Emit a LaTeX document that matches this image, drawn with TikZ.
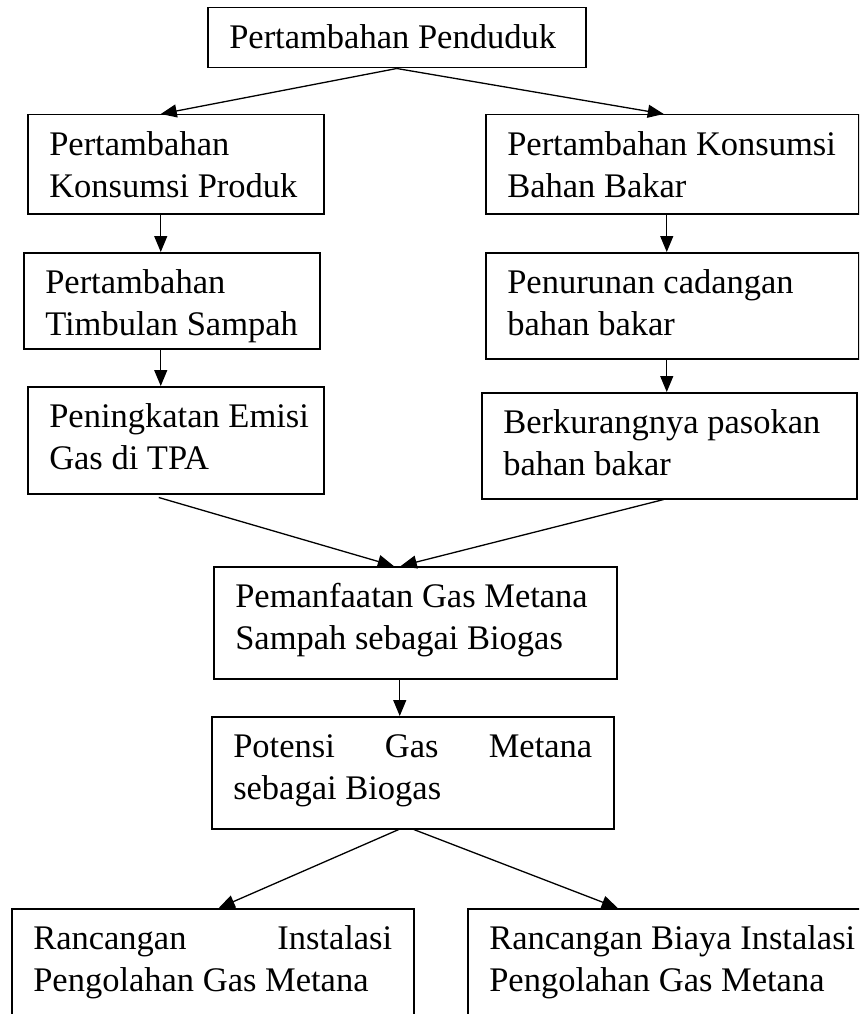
\documentclass[tikz,border=0pt]{standalone}
\usepackage{fontspec}
\setmainfont{Liberation Serif}
\usepackage{tikz}
\usetikzlibrary{arrows.meta}
\newcommand{\boxtxt}[3]{\parbox[c][#2pt][t]{\dimexpr#1pt-43pt\relax}{\fontsize{34.5}{41.5}\selectfont
  \spaceskip=\fontdimen2\font plus \fontdimen3\font\relax
  \hyphenpenalty=10000 \hbadness=10000 \hfuzz=20pt
  \raggedright\rule{0pt}{41pt}#3}}
\newcommand{\spread}[1]{\makebox[\linewidth][s]{#1}}

\begin{document}
\begin{tikzpicture}[x=1pt, y=-1pt]
\tikzset{flowbox/.style={draw, line width=1.5pt, inner xsep=21.5pt, inner ysep=0pt, anchor=north west},
  arr/.style={-{Triangle[length=16pt, width=13pt]}, line width=1.3pt}}
\useasboundingbox (0,0) rectangle (859,1014);
\clip (0,0) rectangle (859,1014);

\node[flowbox] (pend) at (207,7) {\boxtxt{378}{60}{Pertambahan~Penduduk}};

% left branch
\node[flowbox] (prod) at (27,114) {\boxtxt{296}{99}{Pertambahan\\Konsumsi~Produk}};
\node[flowbox] (samp) at (23,252) {\boxtxt{296}{96}{Pertambahan\\Timbulan~Sampah}};
\node[flowbox] (emisi) at (27,386) {\boxtxt{296}{107}{Peningkatan~Emisi\\Gas~di~TPA}};

% right branch
\node[flowbox] (bakar) at (485,114) {\boxtxt{373}{99}{Pertambahan~Konsumsi\\Bahan~Bakar}};
\node[flowbox] (cadang) at (485,252) {\boxtxt{373}{106}{Penurunan~cadangan\\bahan~bakar}};
\node[flowbox] (pasok) at (481,392) {\boxtxt{375}{106}{Berkurangnya~pasokan\\bahan~bakar}};

% middle
\node[flowbox] (manf) at (213,566) {\boxtxt{403}{112}{Pemanfaatan~Gas~Metana\\Sampah~sebagai~Biogas}};
\node[flowbox] (pot) at (211,716) {\boxtxt{402}{112}{\spread{Potensi Gas Metana}\\sebagai~Biogas}};

% bottom, cut by the page edge
\node[flowbox] (inst) at (11,908) {\boxtxt{402}{130}{\spread{Rancangan Instalasi}\\Pengolahan~Gas~Metana}};
\node[flowbox] (biaya) at (467,908) {\boxtxt{413}{130}{Rancangan~Biaya~Instalasi\\Pengolahan~Gas~Metana}};

\draw[arr] (pend.south) -- ([xshift=-15pt]prod.north);
\draw[arr] (pend.south) -- ([xshift=-8.5pt]bakar.north);
\draw[arr] ([xshift=-15pt]prod.south) -- ([xshift=-15pt]prod.south |- samp.north);
\draw[arr] ([xshift=-11pt]samp.south) -- ([xshift=-11pt]samp.south |- emisi.north);
\draw[arr] ([xshift=-5.5pt]bakar.south) -- ([xshift=-5.5pt]bakar.south |- cadang.north);
\draw[arr] ([xshift=-5.5pt]cadang.south) -- ([xshift=-5.5pt]cadang.south |- pasok.north);
\draw[arr] ([xshift=-17pt,yshift=-3pt]emisi.south) -- ([xshift=-21.5pt]manf.north);
\draw[arr] ([xshift=-5.5pt]pasok.south) -- ([xshift=-14.5pt]manf.north);
\draw[arr] ([xshift=-15.5pt]manf.south) -- ([xshift=-15.5pt]manf.south |- pot.north);
\draw[arr] ([xshift=-14pt]pot.south) -- ([xshift=6pt]inst.north);
\draw[arr] ([xshift=1pt]pot.south) -- ([xshift=-56.5pt]biaya.north);
\end{tikzpicture}
\end{document}
